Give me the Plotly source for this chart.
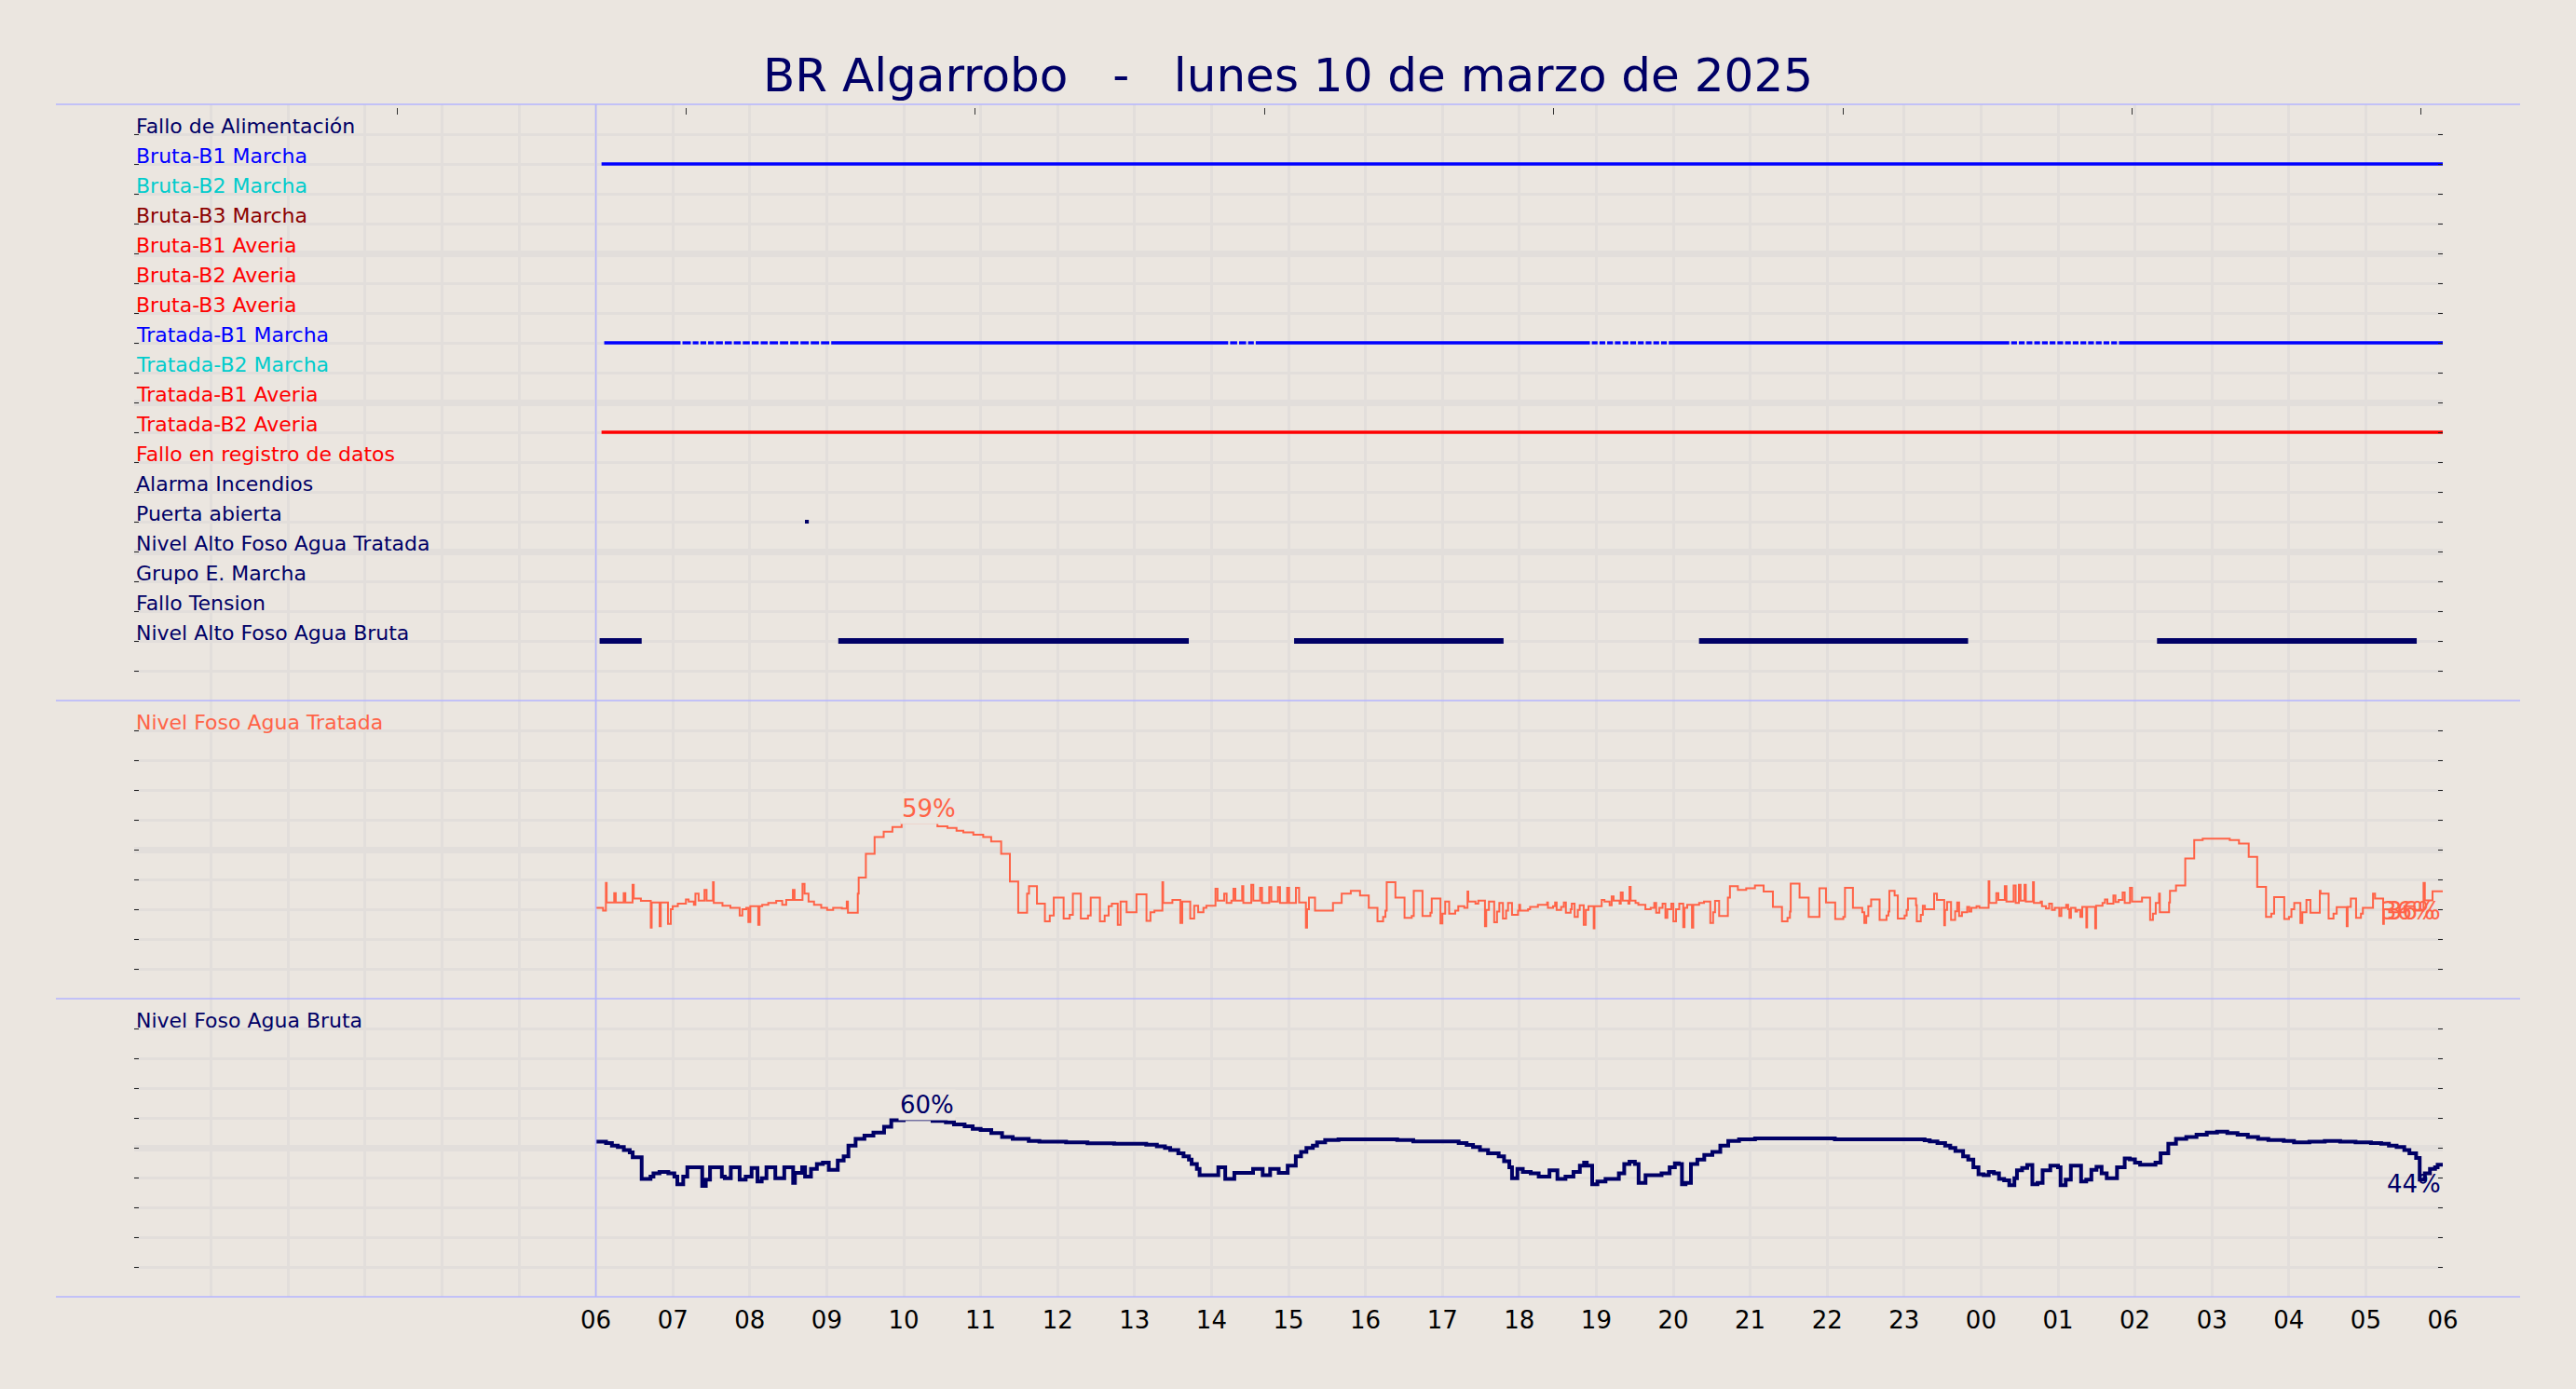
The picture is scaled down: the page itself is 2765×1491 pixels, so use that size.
import plotly.graph_objects as go

# ---------------- styles ----------------
PAPER_BG = "#ebe6e0"
GRID_C = "#e2dedb"
SEP_C = "#b4b4ff"
NAVY = "#000066"
BLUE = "#0000ff"
TURQ = "#00cccc"
DARKRED = "#8b0000"
RED = "#ff0000"
TOMATO = "#ff6347"
FONT = "DejaVu Sans"

# ---------------- data ----------------
TITLE = "BR Algarrobo   -   lunes 10 de marzo de 2025"
HOUR_LABELS = ["06", "07", "08", "09", "10", "11", "12", "13", "14", "15", "16", "17",
               "18", "19", "20", "21", "22", "23", "00", "01", "02", "03", "04", "05", "06"]

SIGNAL_LABELS = [
    "Fallo de Alimentación", "Bruta-B1 Marcha", "Bruta-B2 Marcha", "Bruta-B3 Marcha",
    "Bruta-B1 Averia", "Bruta-B2 Averia", "Bruta-B3 Averia", "Tratada-B1 Marcha",
    "Tratada-B2 Marcha", "Tratada-B1 Averia", "Tratada-B2 Averia", "Fallo en registro de datos",
    "Alarma Incendios", "Puerta abierta", "Nivel Alto Foso Agua Tratada", "Grupo E. Marcha",
    "Fallo Tension", "Nivel Alto Foso Agua Bruta"]
SIGNAL_COLORS = [NAVY, BLUE, TURQ, DARKRED, RED, RED, RED, BLUE, TURQ, RED, RED, RED,
                 NAVY, NAVY, NAVY, NAVY, NAVY, NAVY]

# ON intervals, minutes after 06:00
ON_BRUTA_B1_MARCHA = [[4.4, 1440]]
ON_TRATADA_B2_AVERIA = [[4.4, 1440]]
ON_TRATADA_B1_MARCHA = [
    [6.5, 66], [67.5, 74], [75.5, 80], [81.5, 86], [87.5, 92], [93.5, 99], [100.5, 106],
    [107.5, 113], [114.5, 120], [121.5, 127], [128.5, 134], [135.5, 142], [143.5, 150],
    [151.5, 158], [159.5, 166], [167.5, 174], [175.5, 182], [183.5, 493], [494.5, 500],
    [501.5, 507], [508.5, 513], [514.5, 775], [776.5, 781], [782.5, 787], [788.5, 793],
    [794.5, 799], [800.5, 805], [806.5, 811], [812.5, 817], [818.5, 823], [824.5, 829],
    [830.5, 835], [836.5, 1102], [1103.5, 1108], [1109.5, 1114], [1115.5, 1120],
    [1121.5, 1126], [1127.5, 1132], [1133.5, 1138], [1139.5, 1144], [1145.5, 1150],
    [1151.5, 1156], [1157.5, 1162], [1163.5, 1168], [1169.5, 1174], [1175.5, 1180],
    [1181.5, 1186], [1187.5, 1440]]
ON_PUERTA_ABIERTA = [[163.0, 166.0]]
ON_NIVEL_ALTO_BRUTA = [[2.9, 35.7], [189.0, 462.3], [544.4, 707.7], [860.1, 1069.9], [1217.2, 1419.7]]

# Nivel Foso Agua Tratada (%), minutes after 06:00
T_TRAT = [0, 5.6, 7.8, 8.4, 14.3, 15.5, 21.7, 23.0, 28.6, 29.5, 35.1, 42.8, 43.5, 49.7, 50.6,
          56.2, 58.4, 59.9, 63.9, 70.2, 72.3, 76.4, 77.6, 80.1, 84.7, 86.3, 91.3, 91.9, 98.7,
          104.9, 112.1, 114.2, 117.3, 118.9, 120.4, 126.6, 127.6, 129.7, 134.4, 140.6, 145.3,
          148.4, 153.6, 154.9, 161.1, 162.7, 165.8, 170.1, 175.7, 180.3, 185.0, 191.8, 195.6,
          196.5, 204.2, 204.9, 210.5, 217.3, 224.4, 231.2, 238.4, 266.3, 274.1, 281.2, 286.5,
          294.3, 302.0, 308.2, 316.0, 322.8, 329.3, 336.2, 337.7, 343.9, 350.1, 353.9, 357.0,
          364.7, 369.4, 371.9, 378.1, 383.7, 385.8, 393.0, 396.7, 399.8, 402.3, 406.9, 409.1,
          413.8, 421.5, 429.3, 432.4, 435.5, 441.7, 442.3, 449.5, 455.7, 457.2, 463.4, 466.5,
          469.6, 473.7,
          476.0, 483.1, 484.7, 489.9, 491.8, 495.5, 497.1, 498.6, 503.9, 504.8, 511.0, 512.6,
          517.9, 519.4, 525.0, 526.6, 531.8, 533.4, 539.0, 540.5, 545.8, 548.3, 553.6, 554.5,
          556.0, 560.7, 574.7, 581.5, 588.6, 595.8, 602.6, 609.4, 613.8, 615.6, 616.6, 623.4,
          630.5, 636.1, 637.7, 644.5, 650.7, 651.7, 658.5, 660.0, 662.2, 665.3, 670.0, 672.4,
          677.1, 679.6, 680.2, 685.8, 688.0, 693.2, 694.2, 696.3, 700.4, 702.6, 704.4, 707.2,
          709.7, 711.2, 714.3, 719.0, 719.9, 720.6, 726.8, 728.4, 734.5, 741.7, 742.3, 746.3,
          747.9, 749.1, 752.6, 754.7, 756.3, 760.0, 760.9, 763.1, 765.6, 767.1, 770.2, 771.8,
          773.9, 778.0, 778.6, 784.2, 786.4, 790.4, 792.0, 793.5, 798.2, 799.1, 800.6, 805.0,
          805.9, 806.8, 810.6, 812.8, 818.3, 822.4, 825.2, 826.7, 829.2, 831.7, 833.9, 835.4,
          838.5, 840.1, 842.2, 844.7, 847.8, 848.8, 850.9, 854.6, 855.6, 860.2, 864.0, 868.9,
          871.1, 872.6, 875.8, 882.6, 884.2, 890.4, 896.9, 903.7, 910.5, 917.7, 924.8, 929.1,
          931.0, 931.6, 938.5, 945.6, 954.0,
          959.1, 966.3, 972.6, 973.9, 980.1, 987.4, 989.0, 990.5, 992.1, 994.3, 1000.9, 1006.3,
          1007.8, 1008.5, 1012.6, 1015.1, 1020.4, 1022.0, 1023.0, 1029.3, 1029.9, 1033.0,
          1034.6, 1036.2, 1043.4, 1045.6, 1051.3, 1051.9, 1053.5, 1056.6, 1059.8, 1061.4,
          1062.9, 1065.1, 1069.2, 1070.8, 1072.4, 1076.5, 1078.7, 1085.9, 1086.5, 1091.9,
          1093.5, 1098.5, 1099.8, 1105.4, 1107.0, 1109.5, 1110.8, 1113.9, 1114.9, 1120.5,
          1121.2, 1126.5, 1127.5, 1130.6, 1133.1, 1135.3, 1137.5, 1141.0, 1142.6, 1146.4,
          1147.9, 1148.9, 1150.1, 1153.6, 1154.9, 1157.4, 1158.9, 1162.1, 1162.7, 1169.0,
          1169.7, 1174.7, 1176.6, 1178.5, 1183.2, 1184.8, 1187.3, 1190.4, 1192.0, 1196.1,
          1197.7, 1205.5, 1211.8, 1214.0, 1216.2, 1218.8, 1219.4, 1226.6, 1227.3, 1232.0,
          1239.2, 1246.2, 1252.8, 1273.9, 1281.1, 1288.7, 1295.3, 1302.2, 1306.3, 1308.5,
          1316.4, 1320.1, 1322.0, 1324.2, 1329.0, 1330.5, 1333.7, 1336.8, 1344.1, 1344.7,
          1351.0, 1354.8, 1357.3, 1365.1, 1365.8, 1368.3, 1372.4, 1376.2, 1377.7, 1385.6,
          1387.2, 1393.5, 1394.1, 1398.2, 1410.0, 1418.0, 1425.0, 1426.0, 1432.0, 1440.0]
V_TRAT = [30.5, 29.5, 38.8, 32.3, 35.4, 32.3, 35.4, 32.3, 38.2, 33.6, 32.8, 23.8, 32.3, 24.3, 32.3,
          25.1, 30.0, 31.0, 31.9, 33.3, 32.6, 31.5, 35.2, 32.9, 36.5, 32.9, 39.1, 32.1, 31.2,
          30.5, 27.9, 30.0, 30.5, 25.7, 31.0, 24.8, 31.0, 31.5, 32.1, 32.8, 31.5,
          33.1, 36.5, 33.1, 38.5, 35.2, 32.6, 31.5, 30.5, 29.8, 30.5, 30.2, 32.6,
          28.8, 35.2, 40.6, 48.6, 54.2, 56.0, 57.6, 59.0, 57.8, 57.3, 56.3, 55.8,
          55.0, 54.2, 52.7, 48.6, 39.3, 28.8, 35.2, 37.7, 31.9, 25.9, 27.9, 33.9,
          26.9, 28.1, 35.2, 26.9, 27.9, 33.9, 25.9, 27.9, 31.0, 31.9, 24.8, 32.6,
          29.0, 35.0, 26.1, 29.0, 29.5, 39.1, 32.1, 33.1, 25.4, 32.6, 26.9, 31.2,
          29.0, 30.5,
          31.2, 36.9, 32.9, 35.2, 32.1, 32.9, 36.9, 32.9, 37.7, 32.1, 38.2, 32.9,
          37.2, 32.1, 37.4, 32.6, 37.4, 32.1, 37.2, 32.1, 37.2, 32.3, 23.8, 30.0,
          33.9, 29.5, 32.1, 35.2, 36.2, 34.6, 30.5, 25.9, 27.4, 29.5, 39.1, 33.9,
          27.1, 27.7, 36.2, 27.7, 28.8, 33.6, 25.2, 28.5, 32.6, 28.5, 29.5, 31.0,
          30.5, 35.9, 32.6, 31.9, 32.9, 24.3, 29.8, 32.6, 25.6, 29.2, 32.1, 26.9,
          29.5, 32.1, 28.1, 29.5, 31.5, 29.5, 30.0, 30.8, 31.5, 32.3, 30.5, 31.0,
          32.3, 29.8, 30.8, 32.3, 28.8, 30.0, 31.9, 27.4, 29.8, 31.3, 24.8, 29.8,
          31.0, 23.6, 31.0, 33.1, 32.6, 31.3, 34.3, 32.9, 31.9, 35.6, 32.9, 31.9,
          37.5, 32.9, 32.1, 31.5, 30.0, 30.5, 32.1, 28.8, 30.5, 31.9, 27.1, 30.0,
          31.9, 25.9, 30.0, 31.9, 24.0, 30.5, 31.5, 23.8, 31.5, 32.1, 32.6, 25.4,
          29.0, 32.8, 27.7, 33.9, 37.7, 36.5, 37.0, 38.0, 35.9, 30.8, 25.9, 27.1,
          29.2, 38.6, 33.9, 27.4, 37.0,
          32.3, 26.7, 27.4, 37.2, 30.5, 29.0, 25.4, 27.7, 31.0, 33.3, 26.4, 27.9,
          29.2, 36.2, 34.6, 26.9, 27.9, 29.8, 33.6, 31.3, 25.9, 28.1,
          31.2, 30.0, 35.2, 33.1, 24.6, 29.8, 32.4, 26.4, 29.3, 32.3,
          27.7, 29.0, 30.8, 29.2, 30.5, 31.0, 30.5, 39.4, 32.1, 35.4,
          33.1, 37.7, 32.6, 38.0, 32.1, 38.2, 32.9, 38.2, 32.6, 39.1,
          32.1, 32.6, 31.0, 30.2, 31.9, 29.8, 30.5, 27.7, 30.5, 31.5,
          30.0, 27.1, 30.5, 29.2, 29.8, 27.4, 30.8, 23.9, 30.8, 23.6,
          31.2, 32.1, 33.3, 31.9, 34.6, 32.4, 33.1, 35.6, 32.1, 37.2,
          32.6, 33.9, 26.4, 28.5, 32.1, 35.2, 29.0, 32.3, 36.2, 38.0,
          47.0, 53.2, 53.7, 53.2, 52.0, 47.6, 37.5, 27.4, 28.5, 34.1,
          26.7, 27.4, 30.0, 32.1, 25.4, 29.0, 33.1, 28.8, 36.2, 35.2,
          26.9, 28.5, 30.7, 24.3, 30.8, 33.6, 27.1, 28.5, 30.5, 35.2,
          33.6, 25.1, 30.0, 29.0, 31.0, 29.5, 38.8, 33.0, 36.0, 36.0]

# Nivel Foso Agua Bruta (%), minutes after 06:00
T_BRUT = [0, 7.9, 12.5, 17.1, 21.8, 26.4, 28.7, 35.7, 42.6, 44.9, 49.6, 56.5, 61.2, 63.5, 68.1,
          71.3, 82.9, 85.7, 89.0, 98.2, 100.5, 105.2, 112.1, 116.8, 121.4, 126.0, 129.3, 133.0,
          139.9, 146.9, 153.8, 155.2, 160.8, 163.1, 167.7, 172.3, 177.0, 181.6, 188.6, 193.2,
          196.9, 202.5, 209.4, 216.4, 224.7, 230.3, 240.0, 262.5, 272.9, 279.2, 287.5, 293.8,
          300.0, 308.3, 316.7, 325.0, 337.5, 345.8, 366.6, 383.3, 404.1, 429.1, 437.4, 443.7,
          447.8, 454.1, 458.2, 462.4, 464.5, 468.6, 470.7, 485.3, 490.7, 497.8, 512.4, 519.9,
          525.7, 532.4, 539.4, 545.7, 549.8, 554.0, 559.0, 562.3, 568.6, 579.0, 624.8, 637.3,
          672.7, 678.9, 683.9, 689.3, 695.6, 703.9, 708.1, 712.2, 714.3, 718.5, 722.7, 728.9,
          735.1, 743.5, 749.7, 756.0, 762.2, 767.2, 770.5, 772.6, 776.8, 780.9, 787.2, 797.6,
          801.8, 805.9, 810.1, 813.0, 818.4, 830.9, 837.2, 841.3, 844.3, 846.8, 849.6, 853.8,
          858.8, 864.2, 870.5, 876.7, 882.9, 891.3, 903.8,
          966, 1036, 1040, 1046, 1052, 1056, 1060, 1066, 1070, 1074, 1078, 1082, 1086, 1090,
          1094, 1098, 1102, 1106, 1108, 1112, 1116, 1120, 1124, 1128, 1134, 1140, 1142, 1146,
          1150, 1158, 1162, 1166, 1170, 1174, 1178, 1186, 1192, 1196, 1200, 1204, 1216, 1220,
          1226, 1232, 1240, 1248, 1256, 1264, 1272, 1280, 1288, 1296, 1304, 1316, 1324, 1336,
          1348, 1360, 1372, 1384, 1392, 1398, 1404, 1410, 1414, 1419.2, 1422, 1426, 1430, 1434,
          1436, 1440]
V_BRUT = [52.0, 51.6, 50.7, 50.2, 49.2, 48.4, 46.8, 39.5, 40.3, 41.4, 41.9, 41.4, 40.3, 37.7, 40.3,
          43.4, 37.2, 39.3, 43.4, 40.3, 39.8, 43.4, 39.3, 40.3, 43.2, 38.7, 39.8, 43.4,
          39.8, 43.4, 38.2, 41.6, 43.4, 40.3, 42.9, 44.5, 45.0, 42.6, 45.7, 47.1,
          50.7, 53.0, 54.1, 55.1, 57.0, 59.2, 59.6, 59.0, 58.5, 57.8, 57.2, 56.3,
          55.9, 54.9, 53.6, 53.0, 52.3, 52.0, 51.8, 51.5, 51.3, 51.0, 50.5, 49.9,
          49.2, 48.1, 47.1, 46.0, 44.5, 42.9, 40.8, 43.4, 39.5, 41.6, 42.9, 40.8,
          42.9, 41.6, 44.0, 47.1, 48.6, 49.9, 50.7, 51.8, 52.6, 52.8, 52.6, 52.1,
          51.6, 50.9, 50.2, 49.2, 48.1, 47.1, 45.5, 43.4, 39.8, 42.9, 41.9, 41.4,
          40.3, 42.4, 39.5, 40.3, 41.9, 44.0, 45.0, 44.0, 37.7, 38.7, 39.5, 41.4,
          44.5, 45.3, 44.5, 38.2, 40.8, 41.4, 43.4, 44.8, 44.5, 37.7, 38.2, 44.5,
          46.0, 47.6, 48.6, 50.7, 52.3, 52.8, 53.1,
          52.8, 52.5, 52.1, 51.6, 50.7, 49.9, 48.9, 47.1, 46.0, 43.4, 41.1, 40.8, 41.9, 41.4,
          39.5, 39.1, 37.4, 39.8, 42.4, 43.2, 44.2, 37.7, 38.2, 42.4, 44.0, 43.4, 37.4, 39.3,
          44.0, 38.7, 39.3, 42.6, 43.6, 41.4, 39.8, 43.4, 46.4, 46.1, 45.0, 44.3, 45.0, 48.1,
          51.3, 53.0, 53.6, 54.4, 55.1, 55.4, 54.9, 54.4, 53.6, 53.0, 52.6, 52.3, 51.8, 52.0,
          52.3, 52.0, 51.8, 51.6, 51.3, 50.7, 50.2, 49.2, 48.1, 46.6, 39.3, 41.4, 42.9, 43.4,
          44.3, 44.3]

TOP_TICK_HOURS = [3.42, 7.17, 10.93, 14.69, 18.44, 22.21, 25.96, 29.71]


def to_x(m):
    return 6 + m / 60.0


fig = go.Figure()

# ---------------- digital signals (top panel) ----------------
SIGNALS = [
    ("Bruta-B1 Marcha", ON_BRUTA_B1_MARCHA, 3.3),
    ("Tratada-B1 Marcha", ON_TRATADA_B1_MARCHA, 3.3),
    ("Tratada-B2 Averia", ON_TRATADA_B2_AVERIA, 3.3),
    ("Puerta abierta", ON_PUERTA_ABIERTA, 4),
    ("Nivel Alto Foso Agua Bruta", ON_NIVEL_ALTO_BRUTA, 6),
]
for name, intervals, w in SIGNALS:
    idx = SIGNAL_LABELS.index(name)
    row_y = len(SIGNAL_LABELS) + 1 - idx
    xs, ys = [], []
    for a, b in intervals:
        xs += [to_x(a), to_x(b), None]
        ys += [row_y, row_y, None]
    fig.add_trace(go.Scatter(x=xs, y=ys, mode="lines", xaxis="x3", yaxis="y3",
                             line=dict(color=SIGNAL_COLORS[idx], width=w),
                             hoverinfo="skip", showlegend=False))

# ---------------- analog levels ----------------
fig.add_trace(go.Scatter(x=[to_x(t) for t in T_TRAT], y=V_TRAT, mode="lines",
                         xaxis="x2", yaxis="y2",
                         line=dict(color=TOMATO, width=2, shape="hv"),
                         hoverinfo="skip", showlegend=False))
fig.add_trace(go.Scatter(x=[to_x(t) for t in T_BRUT], y=V_BRUT, mode="lines",
                         xaxis="x", yaxis="y",
                         line=dict(color=NAVY, width=4, shape="hv"),
                         hoverinfo="skip", showlegend=False))
# carrier for the top tick-mark axis
fig.add_trace(go.Scatter(x=[15], y=[-50], mode="markers", xaxis="x4", yaxis="y3",
                         marker=dict(opacity=0), hoverinfo="skip", showlegend=False))

# ---------------- axes ----------------
def xaxis_cfg(anchor, labels):
    return dict(anchor=anchor, domain=[0, 1], range=[0, 30],
                tickmode="array", tickvals=list(range(6, 31)), ticktext=HOUR_LABELS,
                showticklabels=labels, ticks="", ticklabelstandoff=7,
                showgrid=True, gridcolor=GRID_C, gridwidth=3,
                minor=dict(tick0=0, dtick=1, showgrid=True, gridcolor=GRID_C, gridwidth=3, ticks=""),
                zeroline=False, showline=False, fixedrange=True,
                tickfont=dict(family=FONT, size=26, color="black"))


def yaxis_cfg(domain, rng, major, minor):
    return dict(domain=domain, range=rng, tick0=0, dtick=major,
                showgrid=True, gridcolor=GRID_C, gridwidth=7,
                zeroline=False, showline=False, showticklabels=False,
                ticks="inside", ticklen=5, tickwidth=1.2, tickcolor="#222222", mirror="ticks",
                minor=dict(tick0=0, dtick=minor, showgrid=True, gridcolor=GRID_C, gridwidth=2.5,
                           ticks="inside", ticklen=5, tickwidth=1.2, tickcolor="#222222"),
                fixedrange=True)


PLOT_L, PLOT_R = 144, 2622
PW = PLOT_R - PLOT_L
sep_x0 = (60 - PLOT_L) / PW
sep_x1 = (2705 - PLOT_L) / PW

shapes = []
for yy in [0, 0.25, 0.5, 1.0]:
    shapes.append(dict(type="line", xref="paper", yref="paper", x0=sep_x0, x1=sep_x1, y0=yy, y1=yy,
                       line=dict(color=SEP_C, width=1.5), layer="above"))
shapes.append(dict(type="line", xref="x", yref="paper", x0=6, x1=6, y0=0, y1=1,
                   line=dict(color=SEP_C, width=1.5), layer="above"))

# ---------------- annotations ----------------
ann = []
nrow = len(SIGNAL_LABELS)
for i, (lab, col) in enumerate(zip(SIGNAL_LABELS, SIGNAL_COLORS)):
    ann.append(dict(x=0, xref="paper", y=nrow + 1 - i, yref="y3", text=lab, showarrow=False,
                    xanchor="left", yanchor="bottom", yshift=-6,
                    font=dict(family=FONT, size=22, color=col)))
ann.append(dict(x=0, xref="paper", y=90, yref="y2", text="Nivel Foso Agua Tratada", showarrow=False,
                xanchor="left", yanchor="bottom", yshift=-6, font=dict(family=FONT, size=22, color=TOMATO)))
ann.append(dict(x=0, xref="paper", y=90, yref="y", text="Nivel Foso Agua Bruta", showarrow=False,
                xanchor="left", yanchor="bottom", yshift=-6, font=dict(family=FONT, size=22, color=NAVY)))


def level_labels(T, V, xr, yr, col, extra_last_shift=None):
    out = []
    imax = max(range(len(V)), key=lambda k: V[k])
    xm = (T[imax] + T[min(imax + 1, len(T) - 1)]) / 2
    out.append(dict(x=to_x(xm), xref=xr, y=V[imax], yref=yr, text=f"{round(V[imax])}%",
                    showarrow=False, xanchor="center", yanchor="bottom", yshift=-2, xshift=10,
                    bgcolor=PAPER_BG, font=dict(family=FONT, size=26, color=col)))
    out.append(dict(x=to_x(T[-1]), xref=xr, y=V[-1], yref=yr, text=f"{round(V[-1])}%",
                    showarrow=False, xanchor="right", yanchor="top", yshift=-4,
                    font=dict(family=FONT, size=26, color=col)))
    if extra_last_shift is not None:
        out.append(dict(x=to_x(T[-1]), xref=xr, y=V[-1], yref=yr, text=f"{round(V[-1])}%",
                        showarrow=False, xanchor="right", yanchor="top", yshift=-4,
                        xshift=extra_last_shift, font=dict(family=FONT, size=26, color=col)))
    return out


ann += level_labels(T_TRAT, V_TRAT, "x2", "y2", TOMATO, extra_last_shift=-6)
ann += level_labels(T_BRUT, V_BRUT, "x", "y", NAVY)

title_txt = TITLE.replace("   ", "\u00a0\u00a0\u00a0")

fig.update_layout(
    width=2765, height=1491, autosize=False,
    paper_bgcolor=PAPER_BG, plot_bgcolor=PAPER_BG,
    margin=dict(l=PLOT_L, r=2765 - PLOT_R, t=112, b=99),
    title=dict(text=title_txt, x=0.5, xanchor="center", y=1 - 80 / 1491, yanchor="middle",
               yref="container", font=dict(family=FONT, size=50, color=NAVY)),
    xaxis=xaxis_cfg("y", True),
    xaxis2=xaxis_cfg("y2", False),
    xaxis3=xaxis_cfg("y3", False),
    xaxis4=dict(overlaying="x3", anchor="free", position=(1392 - 123) / 1280, side="top",
                range=[0, 30], tickmode="array", tickvals=TOP_TICK_HOURS, ticks="outside",
                ticklen=7, tickwidth=1.2, tickcolor="#333333", showticklabels=False,
                showgrid=False, zeroline=False, showline=False, fixedrange=True),
    yaxis=yaxis_cfg([0, 0.25], [0, 100], 50, 10),
    yaxis2=yaxis_cfg([0.25, 0.5], [0, 100], 50, 10),
    yaxis3=yaxis_cfg([0.5, 1.0], [0, 20], 5, 1),
    shapes=shapes,
    annotations=ann,
    showlegend=False,
    hovermode=False,
)

fig.write_html("out.html",
               config={"displayModeBar": False},
               post_script="document.body.style.margin='0px';"
                           "document.body.style.background='" + PAPER_BG + "';")
